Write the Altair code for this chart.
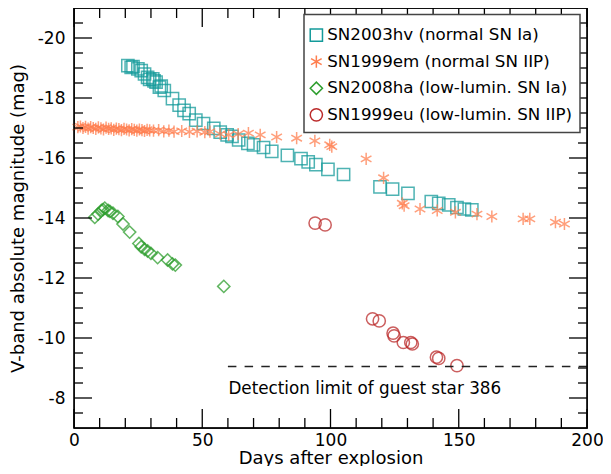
import altair as alt
import pandas as pd

FONT = "DejaVu Sans"
W, H = 513, 420

series_names = [
    "SN2003hv (normal SN Ia)",
    "SN1999em (normal SN IIP)",
    "SN2008ha (low-lumin. SN Ia)",
    "SN1999eu (low-lumin. SN IIP)",
]
series_colors = ["#139a9a", "#ff7f50", "#2e9e2e", "#bb2a2a"]
ASTER = "M0,-1L0,1M-0.866,-0.5L0.866,0.5M-0.866,0.5L0.866,-0.5"
series_shapes = ["square", ASTER, "diamond", "circle"]

hv_days = [21.0, 22.3, 23.0, 24.9, 26.2, 27.5, 28.7, 29.5, 30.7, 31.2, 32.0, 33.3, 34.0, 35.2,
           38.4, 41.0, 42.9, 44.9, 47.5, 50.5, 54.5, 57.0, 59.7, 61.6, 64.2, 67.8, 70.0, 73.9,
           77.1, 83.2, 88.5, 91.3, 94.3, 99.0, 105.1, 119.3, 124.2, 130.2, 139.3, 142.2, 146.1,
           149.3, 152.2, 155.1]
hv_mags = [-19.08, -19.02, -19.05, -18.97, -18.91, -18.80, -18.69, -18.62, -18.64, -18.57, -18.53,
           -18.36, -18.40, -18.25, -17.98, -17.76, -17.59, -17.48, -17.26, -17.15, -16.99, -16.86,
           -16.77, -16.72, -16.60, -16.49, -16.44, -16.35, -16.22, -16.09, -15.98, -15.87, -15.78,
           -15.62, -15.45, -15.04, -14.96, -14.82, -14.55, -14.49, -14.44, -14.35, -14.30, -14.27]

em_days = [1.5, 2.5, 3.5, 4.5, 5.5, 6.5, 7.5, 8.5, 9.5, 10.5, 11.5, 12.5, 13.5, 14.5, 15.5, 16.5,
           17.5, 18.5, 19.5, 20.5, 21.5, 22.5, 23.5, 24.5, 25.5, 26.5, 27.5, 28.5, 29.5, 31, 33,
           35, 37, 39, 42, 45, 48, 51, 53, 57, 60.3, 64, 68, 72.6, 79, 86.8, 93.9, 99.7, 100.5,
           113.9, 120.7, 128.0, 128.7, 134.9, 141.6, 148.7, 157.1, 162.9, 175.1, 177.7, 187.7, 191.2]
em_mags = [-17.03, -17.05, -17.00, -17.04, -16.98, -17.03, -17.00, -16.97, -17.02, -16.99, -16.95,
           -17.01, -16.97, -16.99, -16.94, -16.98, -16.96, -16.93, -16.97, -16.95, -16.92, -16.96,
           -16.94, -16.91, -16.95, -16.93, -16.90, -16.94, -16.92, -16.91, -16.93, -16.89, -16.91,
           -16.88, -16.90, -16.87, -16.89, -16.86, -16.88, -16.80, -16.77, -16.80, -16.83, -16.77,
           -16.70, -16.66, -16.57, -16.44, -16.38, -15.97, -15.34, -14.49, -14.41, -14.30, -14.25,
           -14.19, -14.13, -14.05, -13.97, -13.97, -13.86, -13.80]

ha_days = [8.1, 9.4, 10.7, 11.3, 12.0, 13.3, 14.0, 15.2, 17.1, 19.1, 21.7, 25.3, 26.2, 27.5,
           28.7, 30.0, 32.6, 36.5, 38.4, 39.5, 58.4]
ha_mags = [-14.02, -14.13, -14.25, -14.28, -14.33, -14.25, -14.22, -14.16, -14.05, -13.80, -13.53,
           -13.15, -13.04, -12.96, -12.90, -12.82, -12.68, -12.60, -12.47, -12.43, -11.72]

eu_days = [94.0, 97.9, 116.4, 119.0, 124.4, 124.8, 128.4, 131.3, 131.9, 141.3, 142.2, 149.3]
eu_mags = [-13.83, -13.77, -10.64, -10.57, -10.16, -10.07, -9.85, -9.85, -9.80, -9.36, -9.32, -9.08]

limit_days = [60, 200]
limit_mag = [-9.05]
label_text = ["Detection limit of guest star 386"]
label_pos = [60.2, -8.14]

x_range = [0, 200]
y_range = [-21, -7]
x_major = [0, 50, 100, 150, 200]
x_minor = [v for v in range(10, 200, 10) if v % 50 != 0]
y_major = [-20, -18, -16, -14, -12, -10, -8]
y_minor = [-20.5, -19.5, -19, -18.5, -17.5, -17, -16.5, -15.5, -15, -14.5, -13.5, -13, -12.5,
           -11.5, -11, -10.5, -9.5, -9, -8.5, -7.5]

# one table: data points plus the inward axis ticks (drawn as line-shaped symbols)
rows = []
for name, ds, ms in zip(series_names, [hv_days, em_days, ha_days, eu_days],
                        [hv_mags, em_mags, ha_mags, eu_mags]):
    for d, m in zip(ds, ms):
        rows.append({"day": d, "mag": m, "key": name, "sz": 150, "op": 0.75, "sw": 1.5})

tick_keys = ["t_bottom", "t_top", "t_left", "t_right"]
tick_shapes = ["M0,0L0,-1", "M0,0L0,1", "M0,0L1,0", "M0,0L-1,0"]
for vals, L in ((x_major, 19), (x_minor, 10)):
    for v in vals:
        rows.append({"day": v, "mag": y_range[1], "key": "t_bottom", "sz": 4 * L * L, "op": 1, "sw": 1.3})
        rows.append({"day": v, "mag": y_range[0], "key": "t_top", "sz": 4 * L * L, "op": 1, "sw": 1.3})
for vals, L in ((y_major, 18), (y_minor, 9)):
    for v in vals:
        rows.append({"day": x_range[0], "mag": v, "key": "t_left", "sz": 4 * L * L, "op": 1, "sw": 1.3})
        rows.append({"day": x_range[1], "mag": v, "key": "t_right", "sz": 4 * L * L, "op": 1, "sw": 1.3})
df = pd.DataFrame(rows)

xscale = alt.Scale(domain=x_range, nice=False, zero=False)
yscale = alt.Scale(domain=y_range, nice=False, zero=False, reverse=True)

x_lab_axis = alt.Axis(orient="bottom", values=x_major, ticks=False, tickSize=0, labelFontSize=17,
                      labelFont=FONT, labelColor="black", labelPadding=4, labelFlush=False,
                      title="Days after explosion", titleFontSize=18, titleFont=FONT,
                      titleFontWeight="normal", titleColor="black", titlePadding=1,
                      domain=False, grid=False)
y_lab_axis = alt.Axis(orient="left", values=y_major, ticks=False, tickSize=0, labelFontSize=17,
                      labelFont=FONT, labelColor="black", labelPadding=9, labelFlush=False,
                      labelExpr="'' + datum.value",
                      title="V-band absolute magnitude (mag)", titleFontSize=18, titleFont=FONT,
                      titleFontWeight="normal", titleColor="black", titlePadding=10,
                      domain=False, grid=False)

legend = alt.Legend(orient="none", legendX=234, legendY=18.7, title=None, values=series_names,
                    padding=0, rowPadding=7.6, labelOffset=2.5, labelFontSize=16.7,
                    labelFont=FONT, labelColor="black", labelLimit=0, symbolSize=150,
                    symbolStrokeWidth=1.5, symbolOpacity=1)

all_keys = series_names + tick_keys
points = alt.Chart(df).mark_point(filled=False).encode(
    x=alt.X("day:Q", scale=xscale, axis=x_lab_axis),
    y=alt.Y("mag:Q", scale=yscale, axis=y_lab_axis),
    color=alt.Color("key:N", scale=alt.Scale(domain=all_keys, range=series_colors + ["black"] * 4),
                    legend=legend),
    shape=alt.Shape("key:N", scale=alt.Scale(domain=all_keys, range=series_shapes + tick_shapes),
                    legend=legend),
    size=alt.Size("sz:Q", scale=None, legend=None),
    opacity=alt.Opacity("op:Q", scale=None, legend=None),
    strokeWidth=alt.StrokeWidth("sw:Q", scale=None, legend=None),
)

one_df = pd.DataFrame({"k": [0]})
legend_box = alt.Chart(one_df).mark_rect(fill="white", stroke="#444", strokeWidth=1.5).encode(
    x=alt.value(230), x2=alt.value(506), y=alt.value(6.4), y2=alt.value(124.4)
)
frame_box = alt.Chart(one_df).mark_rect(fill="white", fillOpacity=0, stroke="black",
                                        strokeWidth=1.3).encode(
    x=alt.value(0), x2=alt.value(W), y=alt.value(0), y2=alt.value(H)
)

limit_df = pd.DataFrame({"a": [limit_days[0]], "b": [limit_days[1]], "m": limit_mag})
rule = alt.Chart(limit_df).mark_rule(color="#222", strokeWidth=1.3, strokeDash=[8.5, 8.2]).encode(
    x=alt.X("a:Q", scale=xscale, axis=None),
    x2="b:Q",
    y=alt.Y("m:Q", scale=yscale, axis=None),
)

text_df = pd.DataFrame({"d": [label_pos[0]], "m": [label_pos[1]], "t": label_text})
text = alt.Chart(text_df).mark_text(align="left", baseline="alphabetic", fontSize=16.8, font=FONT,
                                    color="black").encode(
    x=alt.X("d:Q", scale=xscale, axis=None),
    y=alt.Y("m:Q", scale=yscale, axis=None),
    text="t:N",
)

chart = alt.layer(points, legend_box, rule, text, frame_box).resolve_axis(
    x="independent", y="independent"
).properties(
    width=W, height=H, background="white",
    autosize=alt.AutoSizeParams(type="none"),
    padding={"left": 66, "top": 0, "right": 16, "bottom": 38},
).configure_view(stroke="black", strokeWidth=1.3)

chart.save("out.html", embed_options={"renderer": "svg", "actions": False})
